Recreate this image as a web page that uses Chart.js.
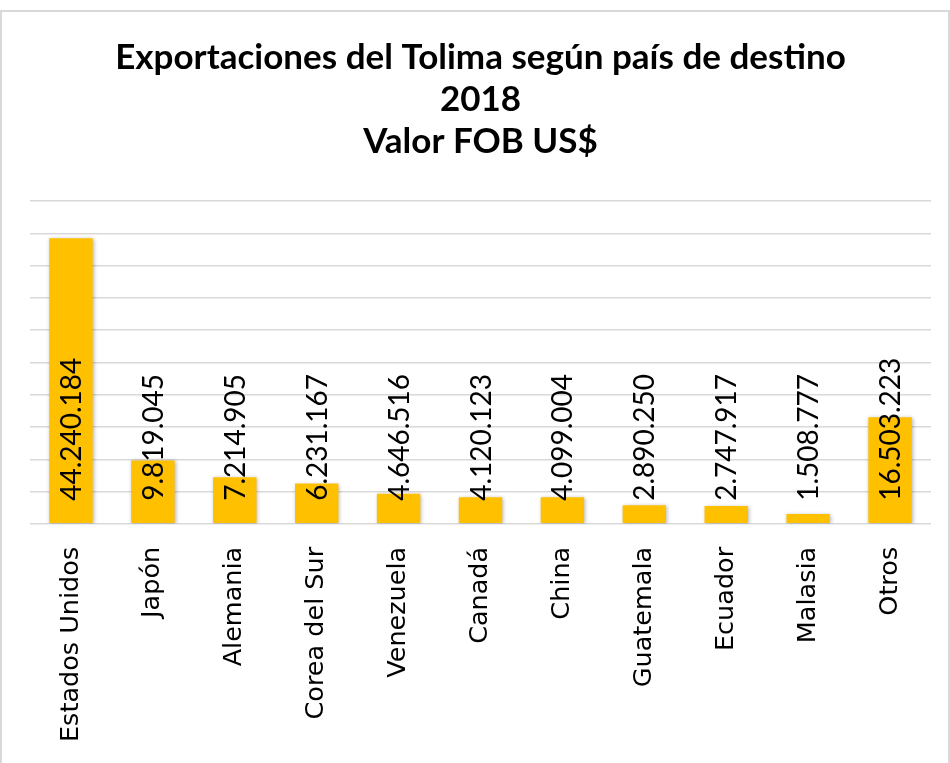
<!DOCTYPE html>
<html>
<head>
<meta charset="utf-8">
<script src="https://cdn.jsdelivr.net/npm/chart.js@4"></script>
<style>
    html, body { margin: 0; padding: 0; background: #fff; }
    .frame {
        position: absolute;
        left: 0;
        top: 10px;
        width: 946px;
        height: 760px;
        border: 2px solid #d9d9d9;
        border-bottom: none;
    }
    .frame canvas { display: block; }
</style>
</head>
<body>
<div class="frame">
    <canvas id="chart" width="946" height="753"></canvas>
</div>
<script>
// data
const paises = ['Estados Unidos', 'Japón', 'Alemania', 'Corea del Sur', 'Venezuela', 'Canadá', 'China', 'Guatemala', 'Ecuador', 'Malasia', 'Otros'];
const valoresFOB = [44240184, 9819045, 7214905, 6231167, 4646516, 4120123, 4099004, 2890250, 2747917, 1508777, 16503223];
const tituloLineas = ['Exportaciones del Tolima según país de destino', '2018', 'Valor FOB US$'];
const ejeMax = 50000000;
const ejePaso = 5000000;

// 44240184 -> "44.240.184"
function formatoMiles(n) {
    return String(n).replace(/\B(?=(\d{3})+(?!\d))/g, '.');
}

// vertical labels drawn from the bar base upward
const etiquetasBarras = {
    id: 'etiquetasBarras',
    afterDatasetsDraw(chart) {
        const ctx = chart.ctx;
        const meta = chart.getDatasetMeta(0);
        const base = chart.scales.y.getPixelForValue(0);
        ctx.save();
        ctx.font = '28px Lato';
        ctx.fillStyle = '#000';
        ctx.textAlign = 'left';
        ctx.textBaseline = 'middle';
        meta.data.forEach((bar, i) => {
            ctx.save();
            ctx.translate(bar.x + 1, base - 23);
            ctx.rotate(-Math.PI / 2);
            ctx.fillText(formatoMiles(valoresFOB[i]), 0, 0);
            ctx.restore();
        });
        ctx.restore();
    }
};

// soft shadow under the bars
const sombraBarras = {
    id: 'sombraBarras',
    beforeDatasetsDraw(chart) {
        const ctx = chart.ctx;
        ctx.save();
        ctx.shadowColor = 'rgba(0, 0, 0, 0.3)';
        ctx.shadowBlur = 4;
        ctx.shadowOffsetX = 1;
        ctx.shadowOffsetY = 1;
    },
    afterDatasetsDraw(chart) {
        chart.ctx.restore();
    }
};

new Chart(document.getElementById('chart'), {
    type: 'bar',
    data: {
        labels: paises,
        datasets: [{
            data: valoresFOB,
            backgroundColor: '#FFC000',
            borderWidth: 0,
            categoryPercentage: 1,
            barPercentage: 0.53
        }]
    },
    options: {
        responsive: false,
        animation: false,
        layout: {
            padding: { left: 28, right: 17, top: 0, bottom: 0 }
        },
        plugins: {
            legend: { display: false },
            tooltip: { enabled: false },
            title: {
                display: true,
                text: tituloLineas,
                color: '#000',
                font: { family: 'Lato', size: 35, weight: 'bold', lineHeight: 1.2 },
                padding: { top: 25, bottom: 38 }
            }
        },
        scales: {
            x: {
                grid: { display: false, drawTicks: false },
                border: { display: false },
                ticks: {
                    color: '#000',
                    font: { family: 'DejaVu Sans', size: 25.5 },
                    minRotation: 90,
                    maxRotation: 90,
                    padding: 23,
                    autoSkip: false
                }
            },
            y: {
                min: 0,
                max: ejeMax,
                ticks: { display: false, stepSize: ejePaso },
                grid: { color: '#d9d9d9', lineWidth: 1.5, drawTicks: false },
                border: { display: false }
            }
        }
    },
    plugins: [sombraBarras, etiquetasBarras]
});
</script>
</body>
</html>
